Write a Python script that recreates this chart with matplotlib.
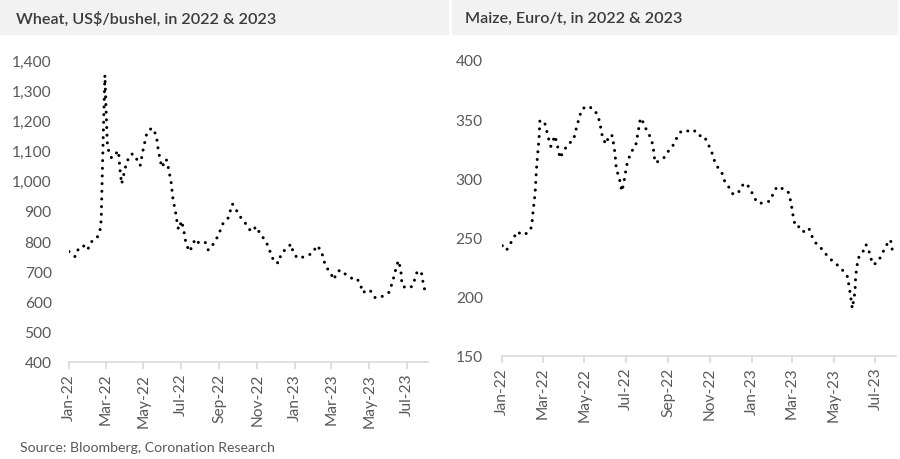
import matplotlib
matplotlib.use("Agg")
import matplotlib.pyplot as plt
import matplotlib.dates as mdates
from matplotlib.patches import Rectangle
from matplotlib.ticker import FuncFormatter
import pandas as pd

# Wheat, US$/bushel
wheat_dates = [
    "2022-01-01", "2022-01-11", "2022-01-16", "2022-01-24", "2022-01-31", "2022-02-05",
    "2022-02-15", "2022-02-20", "2022-02-22", "2022-02-24", "2022-02-26", "2022-02-28",
    "2022-03-02", "2022-03-04", "2022-03-07", "2022-03-11", "2022-03-22", "2022-03-24",
    "2022-03-27", "2022-04-04", "2022-04-11", "2022-04-16", "2022-04-26", "2022-05-01",
    "2022-05-07", "2022-05-15", "2022-05-22", "2022-05-25", "2022-05-28", "2022-05-31",
    "2022-06-07", "2022-06-10", "2022-06-15", "2022-06-18", "2022-06-23", "2022-06-25",
    "2022-06-27", "2022-07-02", "2022-07-07", "2022-07-09", "2022-07-15", "2022-07-24",
    "2022-07-30", "2022-08-09", "2022-08-14", "2022-08-23", "2022-08-30", "2022-09-07",
    "2022-09-15", "2022-09-22", "2022-09-29", "2022-10-07", "2022-10-15", "2022-10-22",
    "2022-10-31", "2022-11-06", "2022-11-14", "2022-11-20", "2022-11-24", "2022-11-30",
    "2022-12-07", "2022-12-09", "2022-12-19", "2022-12-26", "2022-12-29", "2023-01-05",
    "2023-01-17", "2023-01-30", "2023-02-05", "2023-02-12", "2023-02-16", "2023-02-19",
    "2023-02-27", "2023-03-05", "2023-03-09", "2023-03-15", "2023-03-23", "2023-04-02",
    "2023-04-11", "2023-04-17", "2023-04-21", "2023-04-27", "2023-05-04", "2023-05-11",
    "2023-05-23", "2023-06-02", "2023-06-06", "2023-06-10", "2023-06-13", "2023-06-17",
    "2023-06-21", "2023-06-22", "2023-06-23", "2023-07-01", "2023-07-10", "2023-07-14",
    "2023-07-18", "2023-07-25", "2023-07-27", "2023-07-30",
]
wheat_values = [
    765, 748, 773, 785, 770, 796,
    809, 834, 870, 1040, 1200, 1350,
    1230, 1120, 1090, 1075, 1099, 1044,
    989, 1061, 1088, 1088, 1050, 1105,
    1160, 1175, 1151, 1105, 1072, 1044,
    1072, 1048, 995, 939, 886, 856,
    838, 867, 818, 790, 765, 807,
    793, 796, 770, 792, 818, 859,
    876, 923, 900, 873, 854, 831,
    848, 822, 803, 777, 751, 727,
    729, 756, 777, 790, 763, 743,
    748, 760, 785, 770, 744, 718,
    696, 672, 694, 704, 691, 677,
    677, 654, 628, 639, 633, 611,
    617, 630, 654, 682, 707, 735,
    707, 680, 652, 643, 650, 676,
    702, 691, 663, 635,
]

# Maize, Euro/t
maize_dates = [
    "2022-01-01", "2022-01-07", "2022-01-13", "2022-01-23", "2022-01-30", "2022-02-08",
    "2022-02-13", "2022-02-15", "2022-02-18", "2022-02-20", "2022-02-22", "2022-02-24",
    "2022-02-25", "2022-03-04", "2022-03-07", "2022-03-10", "2022-03-13", "2022-03-19",
    "2022-03-22", "2022-03-25", "2022-03-26", "2022-04-01", "2022-04-07", "2022-04-15",
    "2022-04-20", "2022-04-27", "2022-05-04", "2022-05-14", "2022-05-21", "2022-05-24",
    "2022-05-26", "2022-05-29", "2022-06-03", "2022-06-05", "2022-06-11", "2022-06-13",
    "2022-06-15", "2022-06-16", "2022-06-17", "2022-06-21", "2022-06-23", "2022-06-25",
    "2022-06-28", "2022-06-30", "2022-07-02", "2022-07-08", "2022-07-15", "2022-07-19",
    "2022-07-21", "2022-07-24", "2022-07-27", "2022-08-02", "2022-08-07", "2022-08-10",
    "2022-08-11", "2022-08-13", "2022-08-19", "2022-08-27", "2022-09-02", "2022-09-08",
    "2022-09-14", "2022-09-20", "2022-09-30", "2022-10-08", "2022-10-15", "2022-10-23",
    "2022-10-29", "2022-11-03", "2022-11-06", "2022-11-10", "2022-11-18", "2022-11-22",
    "2022-11-29", "2022-12-04", "2022-12-12", "2022-12-16", "2022-12-23", "2022-12-30",
    "2023-01-04", "2023-01-10", "2023-01-20", "2023-01-28", "2023-02-02", "2023-02-07",
    "2023-02-16", "2023-02-23", "2023-02-26", "2023-03-01", "2023-03-03", "2023-03-06",
    "2023-03-14", "2023-03-19", "2023-03-26", "2023-03-30", "2023-04-06", "2023-04-14",
    "2023-04-22", "2023-05-01", "2023-05-10", "2023-05-17", "2023-05-22", "2023-05-23",
    "2023-05-25", "2023-05-28", "2023-06-01", "2023-06-02", "2023-06-04", "2023-06-05",
    "2023-06-12", "2023-06-17", "2023-06-21", "2023-06-23", "2023-06-28", "2023-07-04",
    "2023-07-11", "2023-07-15", "2023-07-23", "2023-07-25", "2023-07-28",
]
maize_values = [
    243, 239, 245, 255, 252, 254,
    259, 272, 287, 308, 322, 336,
    349, 347, 340, 333, 327, 336,
    329, 322, 317, 323, 329, 332,
    344, 358, 361, 359, 353, 346,
    339, 332, 329, 336, 336, 328,
    321, 313, 307, 301, 294, 289,
    297, 304, 311, 322, 327, 340,
    348, 351, 345, 339, 333, 326,
    319, 313, 315, 318, 324, 328,
    335, 340, 340, 341, 336, 336,
    329, 323, 317, 311, 305, 298,
    292, 287, 287, 293, 296, 291,
    284, 279, 279, 281, 288, 293,
    291, 289, 283, 274, 266, 259,
    259, 254, 257, 251, 244, 240,
    234, 229, 225, 220, 216, 209,
    203, 190, 204, 218, 225, 232,
    237, 244, 240, 234, 227, 229,
    236, 242, 248, 241, 234,
]

wheat_ticks = [400, 500, 600, 700, 800, 900, 1000, 1100, 1200, 1300, 1400]
maize_ticks = [150, 200, 250, 300, 350, 400]

plt.rcParams["font.family"] = ["Lato", "DejaVu Sans"]
grey = "#595959"

fig = plt.figure(figsize=(9, 4.6), dpi=100)

# title bands
fig.patches.append(Rectangle((0.0, 1 - 35 / 460), 448 / 900, 35 / 460,
                             transform=fig.transFigure, color="#f2f2f2", zorder=0))
fig.patches.append(Rectangle((452 / 900, 1 - 35 / 460), 445 / 900, 35 / 460,
                             transform=fig.transFigure, color="#f2f2f2", zorder=0))
fig.text(16 / 900, 1 - 19 / 460, "Wheat, US$/bushel, in 2022 & 2023", fontsize=11.6,
         fontweight="semibold", color="#3a3a3a", va="center")
fig.text(465 / 900, 1 - 19 / 460, "Maize, Euro/t, in 2022 & 2023", fontsize=11.6,
         fontweight="semibold", color="#3a3a3a", va="center")
fig.text(20 / 900, 1 - 448 / 460, "Source: Bloomberg, Coronation Research", fontsize=10.2,
         color=grey, va="center")

ax1 = fig.add_axes([69 / 900, (460 - 362.7) / 460, (428 - 69) / 900, (362.7 - 61) / 460])
ax2 = fig.add_axes([502.3 / 900, (460 - 356.7) / 460, (896 - 502.3) / 900, (356.7 - 61) / 460])


def style(ax, dates, values, ticks, fmt, xend, ypad):
    ax.plot(pd.to_datetime(dates), values, color="black", lw=2.2,
            linestyle=(0, (0.01, 2.5)), dash_capstyle="round", solid_capstyle="round")
    ax.set_ylim(ticks[0], ticks[-1])
    ax.set_yticks(ticks)
    ax.yaxis.set_major_formatter(FuncFormatter(fmt))
    ax.set_xlim(pd.Timestamp("2022-01-01"), pd.Timestamp(xend))
    ax.xaxis.set_major_locator(mdates.MonthLocator(bymonth=[1, 3, 5, 7, 9, 11]))
    ax.xaxis.set_major_formatter(mdates.DateFormatter("%b-%y"))
    for s in ["top", "right", "left"]:
        ax.spines[s].set_visible(False)
    ax.spines["bottom"].set_color("#d9d9d9")
    ax.spines["bottom"].set_linewidth(1.2)
    ax.tick_params(axis="y", length=0, labelsize=11.2, labelcolor=grey, pad=ypad)
    ax.tick_params(axis="x", length=5, color="#d9d9d9", width=1.2, labelsize=11.2,
                   labelcolor=grey, labelrotation=90, pad=3)
    ax.patch.set_alpha(0)


style(ax1, wheat_dates, wheat_values, wheat_ticks, lambda v, p: f"{int(v):,}", "2023-08-04", 12.5)
style(ax2, maize_dates, maize_values, maize_ticks, lambda v, p: f"{int(v)}", "2023-07-31", 14)

fig.savefig("out.png", dpi=100)
